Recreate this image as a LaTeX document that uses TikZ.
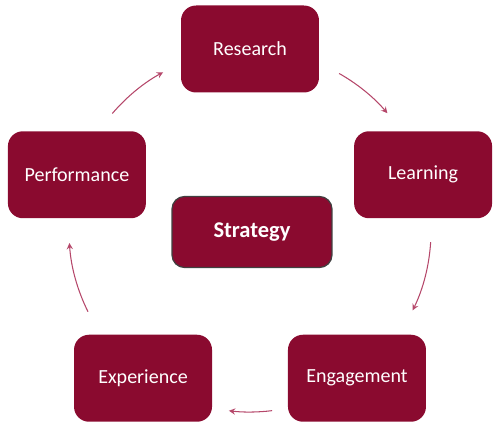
\documentclass[tikz,border=0pt]{standalone}
\usepackage{fontspec}
\setmainfont{Carlito}
\usepackage{xcolor}
\usepackage{tikz}
\usetikzlibrary{arrows, positioning}

\definecolor{claret}{HTML}{8A0A2F}
\definecolor{arcpink}{HTML}{B5476A}

\begin{document}
\begin{tikzpicture}[
    x=0.02cm, y=0.02cm,
    stage/.style={rectangle, rounded corners=0.3cm, minimum width=2.76cm, minimum height=1.74cm, text centered, fill=claret, text=white, font=\fontsize{11.4}{13}\selectfont},
    hub/.style={rectangle, rounded corners=0.25cm, minimum width=3.2cm, minimum height=1.42cm, text centered, draw=black!75, line width=0.7pt, fill=claret, text=white, font=\fontsize{12.8}{15}\selectfont\bfseries},
    arrow/.style={arcpink, line width=0.6pt, ->, >=stealth}
]
\useasboundingbox (-250,-197) rectangle (250,231);

% Nodes
\node (strategy) [hub] at (2,-1) {Strategy};
\node (research) [stage] at (90:182) {Research};
\node (learning) [stage] at (18:182) {Learning};
\node (engagement) [stage] at (-54:182) {Engagement};
\node (experience) [stage] at (234:182) {Experience};
\node (performance) [stage] at (162:182) {Performance};

% Arrow starts
\coordinate (perf2res) at (139.5:181);
\coordinate (res2learn) at (60.5:181);
\coordinate (learn2eng) at (-3.5:181);
\coordinate (eng2exp) at (-83:181);
\coordinate (exp2perf) at (206.5:181);

% Arrows
\draw [arrow] (perf2res) arc[start angle=139.5, end angle=118.7, radius=3.62cm];
\draw [arrow] (res2learn) arc[start angle=60.5, end angle=40.6, radius=3.62cm];
\draw [arrow] (learn2eng) arc[start angle=-3.5, end angle=-26, radius=3.62cm];
\draw [arrow] (eng2exp) arc[start angle=-83, end angle=-96.7, radius=3.62cm];
\draw [arrow] (exp2perf) arc[start angle=206.5, end angle=183.8, radius=3.62cm];

\end{tikzpicture}
\end{document}
